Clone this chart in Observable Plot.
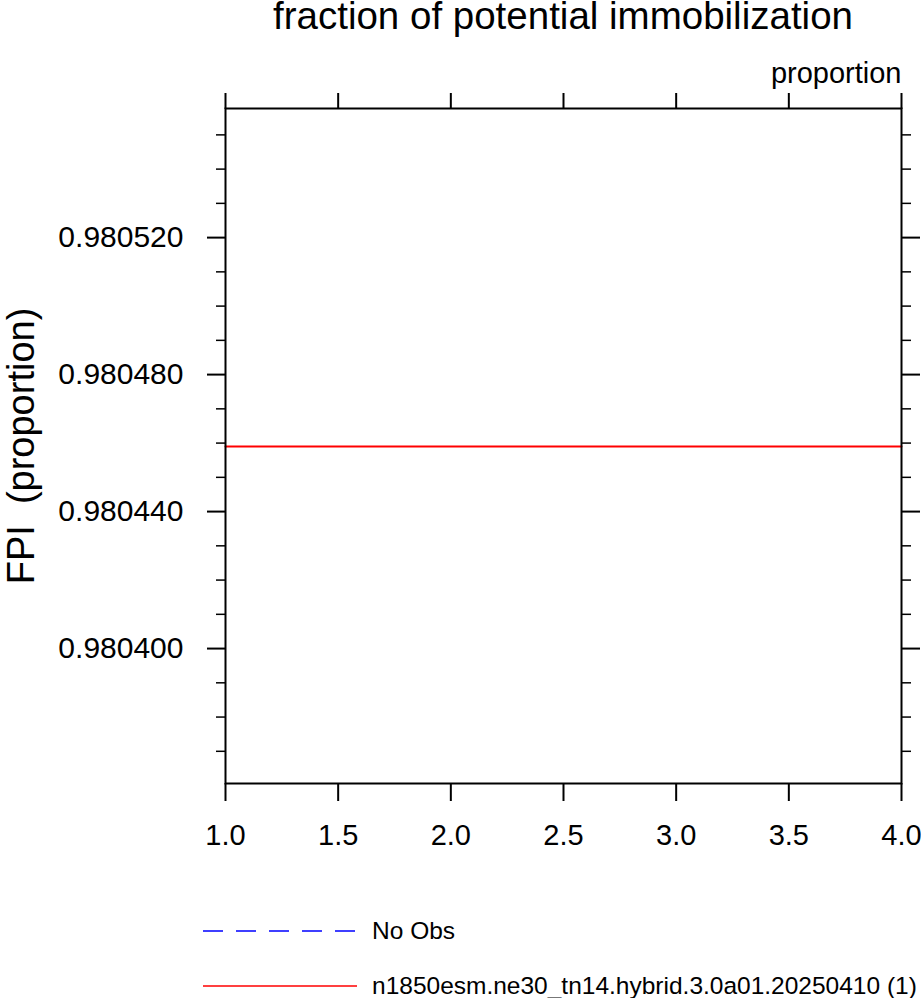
<!DOCTYPE html>
<html>
<head>
<meta charset="utf-8">
<script src="https://cdn.jsdelivr.net/npm/d3@7"></script>
<script src="https://cdn.jsdelivr.net/npm/@observablehq/plot@0.6"></script>
<style>
  body { margin: 0; background: #fff; font-family: "Liberation Sans", Arial, sans-serif; }
  #wrap { position: relative; width: 921px; height: 998px; overflow: hidden; }
  #title { position: absolute; left: 225px; width: 676px; top: 0px; height: 32px; line-height: 32px; text-align: center; font-size: 38.5px; color: #000; white-space: nowrap; z-index: 2; }
  #chart { position: absolute; left: 0; top: 0; }
  #legend { position: absolute; left: 0; top: 900px; width: 921px; height: 98px; }
  .lg { position: absolute; left: 372px; font-size: 24.5px; line-height: 28px; color: #000; white-space: nowrap; }
  svg.ls { position: absolute; left: 200px; }
</style>
</head>
<body>
<div id="wrap">
  <div id="chart"></div>
  <div id="title"></div>
  <div id="legend"></div>
</div>
<script>
const titleText = "fraction of potential immobilization";
const unitsText = "proportion";
const yLabel = "FPI  (proportion)";
const years = [1, 2, 3, 4];
const fpiValues = [0.980459, 0.980459, 0.980459, 0.980459];
const xTicks = [1.0, 1.5, 2.0, 2.5, 3.0, 3.5, 4.0];
const yMajorTicks = [0.980400, 0.980440, 0.980480, 0.980520];
const yMinorTicks = [0.980370, 0.980380, 0.980390, 0.980410, 0.980420, 0.980430, 0.980450, 0.980460, 0.980470, 0.980490, 0.980500, 0.980510, 0.980530, 0.980540, 0.980550];
const seriesNames = ["No Obs", "n1850esm.ne30_tn14.hybrid.3.0a01.20250410 (1)"];
const seriesColors = ["#0000ff", "#ff0000"];

document.getElementById("title").textContent = titleText;

const data = years.map((x, i) => ({x, y: fpiValues[i]}));

const plot = Plot.plot({
  width: 921,
  height: 900,
  marginLeft: 225,
  marginRight: 20,
  marginTop: 108,
  marginBottom: 117,
  style: {fontFamily: "Liberation Sans, Arial, sans-serif", color: "#000", background: "transparent", overflow: "visible"},
  x: {domain: [1, 4]},
  y: {domain: [0.9803606, 0.9805577]},
  marks: [
    Plot.axisX({anchor: "bottom", ticks: xTicks, tickSize: 18, tickPadding: 23, tickFormat: d3.format(".1f"), fontSize: 29, label: null, strokeWidth: 2}),
    Plot.axisX({anchor: "top", ticks: xTicks, tickSize: 16, text: null, label: null, strokeWidth: 2}),
    Plot.axisY({anchor: "left", ticks: yMajorTicks, tickSize: 18, tickPadding: 24, tickFormat: d3.format(".6f"), fontSize: 30, label: null, strokeWidth: 2}),
    Plot.axisY({anchor: "left", ticks: yMinorTicks, tickSize: 9, text: null, label: null, strokeWidth: 1.5}),
    Plot.axisY({anchor: "right", ticks: yMajorTicks, tickSize: 18, text: null, label: null, strokeWidth: 2}),
    Plot.axisY({anchor: "right", ticks: yMinorTicks, tickSize: 9, text: null, label: null, strokeWidth: 1.5}),
    Plot.line(data, {x: "x", y: "y", stroke: seriesColors[1], strokeWidth: 2}),
    Plot.frame({stroke: "#000", strokeWidth: 2}),
    Plot.text([unitsText], {frameAnchor: "top-right", text: d => d, dy: -35, textAnchor: "end", lineAnchor: "middle", fontSize: 29, fill: "#000"}),
    Plot.text([yLabel], {frameAnchor: "left", text: d => d, dx: -204, rotate: -90, textAnchor: "middle", lineAnchor: "middle", fontSize: 38, fill: "#000"})
  ]
});
document.getElementById("chart").appendChild(plot);

// legend
const legend = document.getElementById("legend");
const rows = [{y: 31, dash: "20 13"}, {y: 86, dash: null}];
rows.forEach((r, i) => {
  const svg = d3.create("svg").attr("class", "ls").attr("width", 160).attr("height", 10)
    .style("top", (r.y - 5) + "px");
  const ln = svg.append("line").attr("x1", 3).attr("x2", 157).attr("y1", 5).attr("y2", 5)
    .attr("stroke", seriesColors[i]).attr("stroke-width", 1.5);
  if (r.dash) ln.attr("stroke-dasharray", r.dash);
  legend.appendChild(svg.node());
  const t = document.createElement("div");
  t.className = "lg";
  t.style.top = (r.y - 14) + "px";
  t.textContent = seriesNames[i];
  legend.appendChild(t);
});
</script>
</body>
</html>
